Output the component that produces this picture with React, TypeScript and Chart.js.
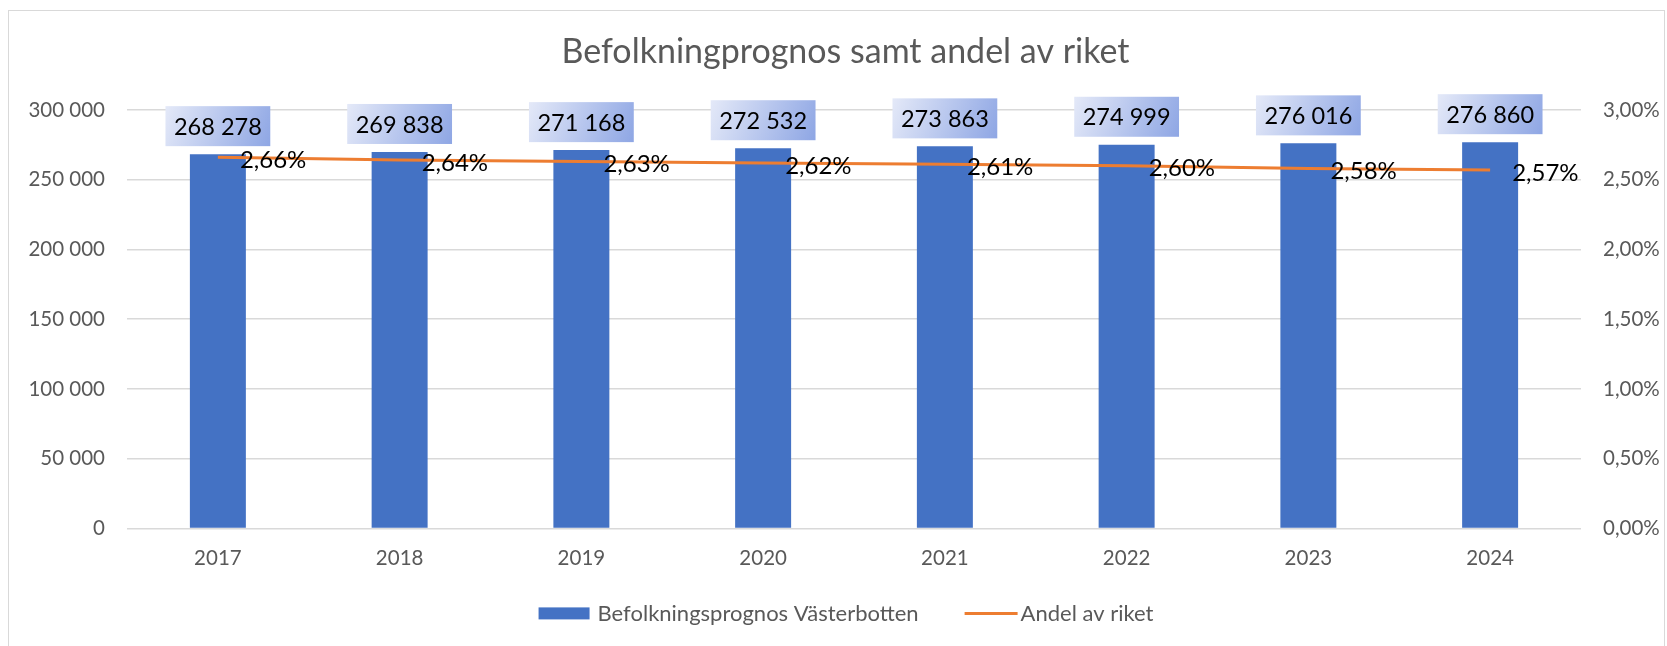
import React, { useEffect, useRef } from 'react';
import { Chart, registerables } from 'chart.js';

Chart.register(...registerables);

// ---- data ----
const categories = ['2017', '2018', '2019', '2020', '2021', '2022', '2023', '2024'];
const populationForecast = [268278, 269838, 271168, 272532, 273863, 274999, 276016, 276860];
const shareOfCountry = [2.66, 2.64, 2.63, 2.62, 2.61, 2.6, 2.58, 2.57];
const leftTickValues = [0, 50000, 100000, 150000, 200000, 250000, 300000];
const rightTickValues = [0, 0.5, 1, 1.5, 2, 2.5, 3];
const titleText = 'Befolkningprognos samt andel av riket';
const seriesNames = ['Befolkningsprognos Västerbotten', 'Andel av riket'];

const FONT = 'Lato, "Noto Sans", sans-serif';
const GRAY = '#595959';
const BAR_COLOR = '#4472C4';
const LINE_COLOR = '#ED7D31';

const fmtInt = (v: number) => String(Math.round(v)).replace(/\B(?=(\d{3})+(?!\d))/g, ' ');
const fmtPct = (v: number) => v.toFixed(2).replace('.', ',') + '%';

const valueLabels = {
  id: 'valueLabels',
  afterDatasetsDraw(chart: any) {
    const ctx = chart.ctx as CanvasRenderingContext2D;
    ctx.save();
    const barMeta = chart.getDatasetMeta(0);
    ctx.font = `23.5px ${FONT}`;
    ctx.textAlign = 'center';
    ctx.textBaseline = 'middle';
    barMeta.data.forEach((el: any, i: number) => {
      const text = fmtInt(populationForecast[i]);
      const w = ctx.measureText(text).width + 17;
      const h = 40;
      const x0 = el.x - w / 2;
      const y0 = el.y - 8 - h;
      const g = ctx.createLinearGradient(x0, y0, x0 + w, y0 + h);
      g.addColorStop(0, '#e4e9f8');
      g.addColorStop(1, '#8ea6e4');
      ctx.fillStyle = g;
      ctx.fillRect(x0, y0, w, h);
      ctx.fillStyle = '#000';
      ctx.fillText(text, el.x, y0 + h / 2 + 1);
    });
    const lineMeta = chart.getDatasetMeta(1);
    ctx.font = `24px ${FONT}`;
    ctx.textAlign = 'left';
    lineMeta.data.forEach((el: any, i: number) => {
      ctx.fillStyle = '#000';
      ctx.fillText(fmtPct(shareOfCountry[i]), el.x + 22, el.y + 3);
    });
    ctx.restore();
  },
};

// Excel-style legend row below the axis
const bottomLegend = {
  id: 'bottomLegend',
  afterDraw(chart: any) {
    const ctx = chart.ctx as CanvasRenderingContext2D;
    const area = chart.chartArea;
    ctx.save();
    ctx.font = `22px ${FONT}`;
    const w1 = ctx.measureText(seriesNames[0]).width;
    const w2 = ctx.measureText(seriesNames[1]).width;
    const total = 51 + 8 + w1 + 46 + 53 + 3 + w2;
    const cx = (area.left + area.right) / 2 - 8;
    const y = area.bottom + 85;
    let x = cx - total / 2;
    ctx.fillStyle = BAR_COLOR;
    ctx.fillRect(x, y - 6, 51, 12);
    x += 51 + 8;
    ctx.fillStyle = GRAY;
    ctx.textAlign = 'left';
    ctx.textBaseline = 'middle';
    ctx.fillText(seriesNames[0], x, y + 1);
    x += w1 + 46;
    ctx.strokeStyle = LINE_COLOR;
    ctx.lineWidth = 3;
    ctx.beginPath();
    ctx.moveTo(x, y);
    ctx.lineTo(x + 53, y);
    ctx.stroke();
    x += 53 + 3;
    ctx.fillText(seriesNames[1], x, y + 1);
    ctx.restore();
  },
};

export default function App() {
  const ref = useRef<HTMLCanvasElement>(null);
  useEffect(() => {
    Chart.defaults.font.family = FONT;
    const chart = new Chart(ref.current as HTMLCanvasElement, {
      type: 'bar',
      data: {
        labels: categories,
        datasets: [
          {
            type: 'bar',
            label: seriesNames[0],
            data: populationForecast,
            yAxisID: 'y',
            backgroundColor: BAR_COLOR,
            borderWidth: 0,
            barPercentage: 0.308,
            categoryPercentage: 1,
            order: 1,
          },
          {
            type: 'line',
            label: seriesNames[1],
            data: shareOfCountry,
            yAxisID: 'y1',
            borderColor: LINE_COLOR,
            backgroundColor: LINE_COLOR,
            borderWidth: 3,
            pointRadius: 0,
            tension: 0,
            fill: false,
            order: 0,
          },
        ],
      } as any,
      options: {
        responsive: false,
        animation: false,
        layout: { padding: { left: 19, right: 1, top: 0, bottom: 62 } },
        plugins: {
          title: {
            display: true,
            text: titleText,
            color: GRAY,
            font: { family: FONT, size: 34, weight: 'normal', lineHeight: 1.1 },
            padding: { top: 22, bottom: 39.5 },
          },
          legend: { display: false },
          tooltip: { enabled: false },
        },
        scales: {
          x: {
            type: 'category',
            grid: { display: false, drawTicks: false },
            border: { display: false },
            ticks: {
              color: GRAY,
              font: { family: FONT, size: 20.5 },
              padding: 18,
              autoSkip: false,
              maxRotation: 0,
            },
          },
          y: {
            position: 'left',
            min: leftTickValues[0],
            max: leftTickValues[leftTickValues.length - 1],
            afterBuildTicks: (a: any) => {
              a.ticks = leftTickValues.map((v) => ({ value: v }));
            },
            grid: { color: '#d9d9d9', lineWidth: 1.5, drawTicks: false },
            border: { display: false },
            ticks: {
              color: GRAY,
              font: { family: FONT, size: 20.5 },
              padding: 22,
              callback: (v: any) => fmtInt(Number(v)),
            },
            afterFit: (a: any) => {
              a.width = 99;
            },
          },
          y1: {
            position: 'right',
            min: rightTickValues[0],
            max: rightTickValues[rightTickValues.length - 1],
            afterBuildTicks: (a: any) => {
              a.ticks = rightTickValues.map((v) => ({ value: v }));
            },
            grid: { display: false, drawTicks: false },
            border: { display: false },
            ticks: {
              color: GRAY,
              font: { family: FONT, size: 20.5 },
              padding: 22,
              callback: (v: any) => fmtPct(Number(v)),
            },
            afterFit: (a: any) => {
              a.width = 82;
            },
          },
        },
      } as any,
      plugins: [valueLabels, bottomLegend],
    });
    return () => chart.destroy();
  }, []);

  return (
    <div
      style={{
        position: 'fixed',
        left: 0,
        top: 0,
        width: '100vw',
        height: '100vh',
        overflow: 'hidden',
        background: '#fff',
      }}
    >
      <div
        style={{
          position: 'absolute',
          left: 8,
          top: 10,
          width: 1655,
          height: 640,
          border: '1px solid #d9d9d9',
          background: '#fff',
        }}
      >
        <canvas ref={ref} width={1655} height={640} style={{ display: 'block' }} />
      </div>
    </div>
  );
}
